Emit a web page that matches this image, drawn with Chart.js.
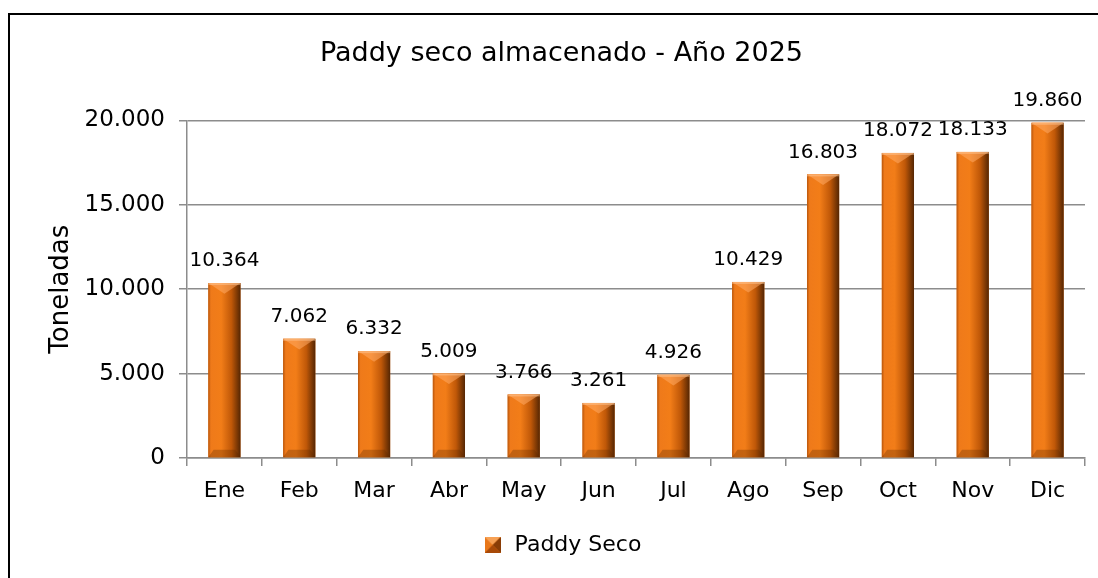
<!DOCTYPE html>
<html><head><meta charset="utf-8">
<script src="https://cdn.jsdelivr.net/npm/chart.js@4"></script>
<style>
html,body{margin:0;padding:0;background:#fff;}
#wrap{position:relative;width:1098px;height:578px;overflow:hidden;background:#fff;}
#frame{position:absolute;left:8px;top:13px;width:1200px;height:700px;border-left:2px solid #000;border-top:2px solid #000;}
canvas{position:absolute;left:0;top:0;}
</style></head><body>
<div id="wrap"><div id="frame"></div><canvas id="c" width="1098" height="578"></canvas></div>
<script>
const categories = ['Ene','Feb','Mar','Abr','May','Jun','Jul','Ago','Sep','Oct','Nov','Dic'];
const values = [10364, 7062, 6332, 5009, 3766, 3261, 4926, 10429, 16803, 18072, 18133, 19860];
const yTicks = [0, 5000, 10000, 15000, 20000];
const seriesName = 'Paddy Seco';
const titleText = 'Paddy seco almacenado - Año 2025';
const axisTitle = 'Toneladas';

const FONT = "'DejaVu Sans', sans-serif";
function fmt(v){ return String(v).replace(/\B(?=(\d{3})+(?!\d))/g, '.'); }

// legend swatch
const sw = document.createElement('canvas'); sw.width = 16; sw.height = 16;
(function(){
  const c = sw.getContext('2d');
  c.fillStyle = '#e8771a'; c.fillRect(0,0,16,16);
  c.fillStyle = '#f7a155'; c.beginPath(); c.moveTo(0,0); c.lineTo(16,0); c.lineTo(8,8); c.closePath(); c.fill();
  c.fillStyle = '#8a3d06'; c.beginPath(); c.moveTo(16,0); c.lineTo(16,16); c.lineTo(8,8); c.closePath(); c.fill();
  c.fillStyle = '#a84a08'; c.beginPath(); c.moveTo(0,16); c.lineTo(16,16); c.lineTo(8,8); c.closePath(); c.fill();
})();

const barDeco = {
  id: 'barDeco',
  afterDatasetsDraw(chart){
    const ctx = chart.ctx;
    const meta = chart.getDatasetMeta(0);
    meta.data.forEach((bar, i) => {
      const {x, y, base, width} = bar.getProps(['x','y','base','width'], true);
      const l = x - width/2, r = x + width/2, h = base - y;
      ctx.save();
      const g = ctx.createLinearGradient(l, 0, r, 0);
      g.addColorStop(0, '#b9560c');
      g.addColorStop(0.08, '#ef7a1a');
      g.addColorStop(0.4, '#f27d18');
      g.addColorStop(0.72, '#c05808');
      g.addColorStop(1, '#552603');
      ctx.fillStyle = g;
      ctx.fillRect(l, y, width, h);
      const b = Math.min(width * 0.33, h / 3);
      // top bevel
      ctx.fillStyle = 'rgba(255,170,100,0.55)';
      ctx.beginPath(); ctx.moveTo(l, y); ctx.lineTo(r, y); ctx.lineTo(x, y + b); ctx.closePath(); ctx.fill();
      ctx.fillStyle = 'rgba(255,200,150,0.5)';
      ctx.fillRect(l, y, width, 2);
      // bottom bevel
      ctx.fillStyle = 'rgba(90,40,0,0.3)';
      ctx.beginPath(); ctx.moveTo(l, base); ctx.lineTo(r, base); ctx.lineTo(r - b*0.5, base - b*0.7); ctx.lineTo(l + b*0.5, base - b*0.7); ctx.closePath(); ctx.fill();
      ctx.restore();
      // value label
      ctx.save();
      ctx.font = "20px " + FONT;
      ctx.fillStyle = '#000';
      ctx.textAlign = 'center';
      ctx.textBaseline = 'bottom';
      ctx.fillText(fmt(values[i]), x, y - 12);
      ctx.restore();
    });
  }
};

new Chart(document.getElementById('c'), {
  type: 'bar',
  data: {
    labels: categories,
    datasets: [{
      label: seriesName,
      data: values,
      backgroundColor: '#e8771a',
      borderWidth: 0,
      categoryPercentage: 1,
      barPercentage: 0.43
    }]
  },
  plugins: [barDeco],
  options: {
    responsive: false,
    animation: false,
    layout: { padding: { left: 38, right: 13, top: 0, bottom: 12 } },
    plugins: {
      tooltip: { enabled: false },
      title: {
        display: true, text: titleText, color: '#000',
        font: { family: FONT, size: 27, weight: 'normal' },
        padding: { top: 38, bottom: 50 }
      },
      legend: {
        display: true, position: 'bottom',
        labels: {
          color: '#000', font: { family: FONT, size: 22 }, padding: 10,
          usePointStyle: true,
          generateLabels: () => [{ text: seriesName, pointStyle: sw, fillStyle: '#e8771a', strokeStyle: '#e8771a', lineWidth: 0, hidden: false, datasetIndex: 0 }]
        }
      }
    },
    scales: {
      x: {
        offset: true,
        ticks: { color: '#000', font: { family: FONT, size: 22 }, padding: 12 },
        grid: { offset: true, drawOnChartArea: false, drawTicks: true, tickLength: 8, color: '#8c8c8c', lineWidth: 1.5 },
        border: { color: '#8c8c8c', width: 1.5 },
        afterFit(s){ s.height = 66; }
      },
      y: {
        min: 0, max: 20000,
        afterBuildTicks(s){ s.ticks = yTicks.map(v => ({ value: v })); },
        ticks: { color: '#000', font: { family: FONT, size: 23 }, padding: 14, callback: v => fmt(v) },
        grid: { color: '#8c8c8c', lineWidth: 1.5, tickLength: 8 },
        border: { color: '#8c8c8c', width: 1.5 },
        title: { display: true, text: axisTitle, color: '#000', font: { family: FONT, size: 26 }, padding: { top: 8, bottom: 0 } },
        afterFit(s){ s.width = 149; }
      }
    }
  }
});
</script>
</body></html>
